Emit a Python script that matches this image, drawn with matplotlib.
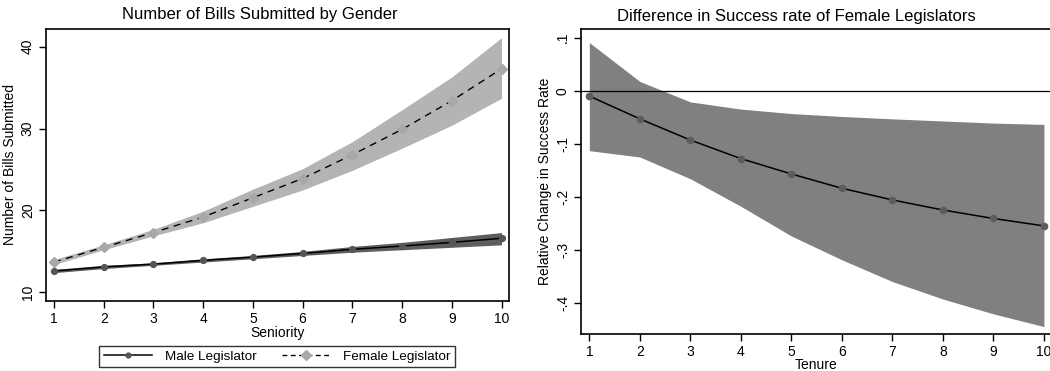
import matplotlib
matplotlib.use("Agg")
import matplotlib.pyplot as plt
from matplotlib.lines import Line2D

plt.rcParams['font.family'] = ['Liberation Sans', 'DejaVu Sans']

# Left panel: predicted number of bills by seniority
seniority = [1, 2, 3, 4, 5, 6, 7, 8, 9, 10]
male_bills = [12.6, 13.1, 13.45, 13.9, 14.3, 14.75, 15.25, 15.65, 16.1, 16.6]
male_lo = [12.4, 12.9, 13.3, 13.7, 14.1, 14.5, 14.9, 15.2, 15.5, 15.8]
male_hi = [12.8, 13.3, 13.6, 14.1, 14.5, 15.0, 15.6, 16.1, 16.7, 17.3]
female_bills = [13.7, 15.5, 17.3, 19.2, 21.55, 23.9, 26.8, 29.9, 33.4, 37.3]
female_lo = [13.4, 15.2, 16.9, 18.5, 20.5, 22.5, 24.9, 27.6, 30.4, 33.7]
female_hi = [14.0, 15.8, 17.7, 19.9, 22.6, 25.1, 28.4, 32.3, 36.3, 41.1]
left_yticks = [10, 20, 30, 40]

# Right panel: relative change in success rate by tenure
tenure = [1, 2, 3, 4, 5, 6, 7, 8, 9, 10]
success_diff = [-0.01, -0.053, -0.093, -0.128, -0.157, -0.184, -0.206, -0.225, -0.241, -0.255]
success_lo = [-0.113, -0.125, -0.166, -0.218, -0.274, -0.319, -0.360, -0.393, -0.421, -0.445]
success_hi = [0.091, 0.0176, -0.021, -0.0346, -0.043, -0.0485, -0.053, -0.057, -0.061, -0.0635]
right_yticks = [0.1, 0.0, -0.1, -0.2, -0.3, -0.4]
right_yticklabels = ['.1', '0', '-.1', '-.2', '-.3', '-.4']

fig = plt.figure(figsize=(10.5, 3.71), dpi=100)

W, H = 1050.0, 371.0
ax1 = fig.add_axes([46 / W, (H - 301) / H, (509 - 46) / W, (301 - 29) / H])
ax2 = fig.add_axes([581 / W, (H - 334) / H, (1052 - 581) / W, (334 - 29.3) / H])

# ---- left panel ----
ax1.fill_between(seniority, female_lo, female_hi, color='#b4b4b4', lw=0, zorder=1)
ax1.fill_between(seniority, male_lo, male_hi, color='#5e5e5e', lw=0, zorder=2)
ax1.plot(seniority, male_bills, color='black', lw=1.1, zorder=3)
ax1.plot(seniority, male_bills, ls='none', marker='o', ms=4.2, color='#555555', zorder=4)
ax1.plot(seniority, female_bills, color='black', lw=1.0, ls=(0, (5, 4)), zorder=3)
ax1.plot(seniority, female_bills, ls='none', marker='D', ms=5.5, color='#a8a8a8', zorder=4)

ax1.set_xlim(0.84, 10.15)
ax1.set_ylim(8.94, 42.16)
ax1.set_xticks(seniority)
ax1.set_yticks(left_yticks)
ax1.set_yticklabels([str(v) for v in left_yticks], rotation=90, va='center')
ax1.set_xlabel('Seniority', fontsize=10, labelpad=0)
ax1.set_ylabel('Number of Bills Submitted', fontsize=10, labelpad=3)
fig.text(259.5 / W, 1 - 15 / H, 'Number of Bills Submitted by Gender',
         ha='center', va='center', fontsize=12)

handles = [
    Line2D([], [], color='black', lw=1.1, marker='o', ms=3.5,
           markerfacecolor='#555555', markeredgecolor='#555555'),
    Line2D([], [], color='black', lw=1.0, ls=(0, (3.5, 2.5)), marker='D', ms=5,
           markerfacecolor='#a8a8a8', markeredgecolor='#a8a8a8'),
]
leg = fig.legend(handles, ['Male Legislator', 'Female Legislator'],
                 loc='center', bbox_to_anchor=(277 / W, 1 - 356.5 / H),
                 ncol=2, fontsize=9.7, frameon=True, fancybox=False,
                 handlelength=3.6, numpoints=1, columnspacing=1.9,
                 borderpad=0.35, handletextpad=0.9, borderaxespad=0)
leg.get_frame().set_edgecolor('black')
leg.get_frame().set_linewidth(1.0)

# ---- right panel ----
ax2.fill_between(tenure, success_lo, success_hi, color='#808080', lw=0, zorder=1)
ax2.axhline(0, color='black', lw=0.9, zorder=2)
ax2.plot(tenure, success_diff, color='black', lw=1.1, zorder=3)
ax2.plot(tenure, success_diff, ls='none', marker='o', ms=4.5, color='#5c5c5c', zorder=4)

ax2.set_xlim(0.835, 10.16)
ax2.set_ylim(-0.459, 0.116)
ax2.set_xticks(tenure)
ax2.set_yticks(right_yticks)
ax2.set_yticklabels(right_yticklabels, rotation=90, va='center')
ax2.set_xlabel('Tenure', fontsize=10, labelpad=-1)
ax2.set_ylabel('Relative Change in Success Rate', fontsize=10, labelpad=3)
fig.text(796 / W, 1 - 16 / H, 'Difference in Success rate of Female Legislators',
         ha='center', va='center', fontsize=12)

for ax in (ax1, ax2):
    for s in ax.spines.values():
        s.set_linewidth(1.2)
        s.set_color('black')
    ax.tick_params(axis='both', direction='out', length=5, width=1.0,
                   labelsize=10, pad=3)

fig.savefig('out.png', dpi=100)
